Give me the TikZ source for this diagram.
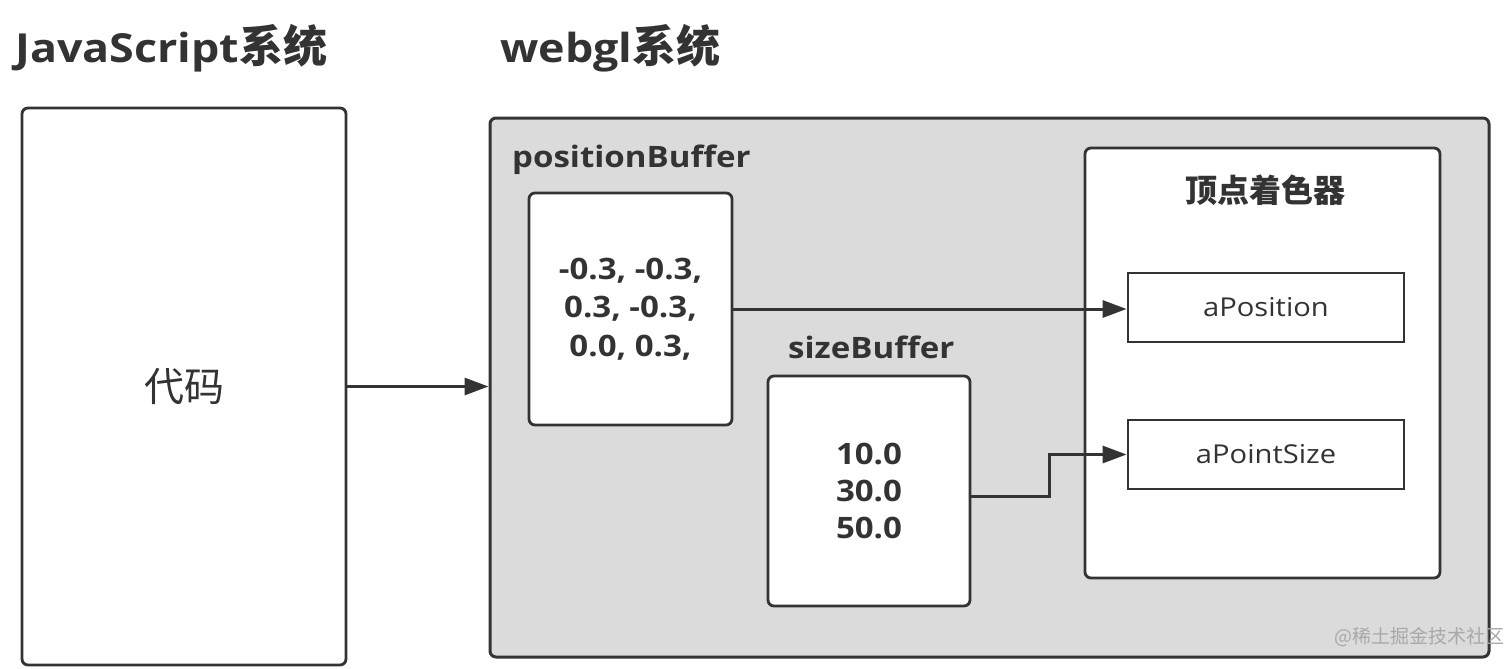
\documentclass[tikz,border=0pt]{standalone}
\usepackage{fontspec}
\setmainfont{Open Sans}[FakeStretch=1.12]
\newfontfamily\cjk{Noto Sans CJK SC}
\usetikzlibrary{arrows.meta}
\definecolor{ink}{HTML}{333333}
\definecolor{panel}{HTML}{DBDBDB}
\definecolor{wm}{HTML}{A8A8A8}
\tikzset{
  x=1pt, y=-1pt,
  rbox/.style={draw=ink, line width=2.8pt, fill=white, rounded corners=6pt, inner sep=0pt, text=ink},
  sbox/.style={draw=ink, line width=2.8pt, fill=white, inner sep=0pt, text=ink, font=\fontsize{26}{30}\selectfont},
  title/.style={text=ink, inner sep=0pt, font=\fontsize{40}{48}\selectfont\bfseries},
  lbl/.style={text=ink, inner sep=0pt, font=\fontsize{29.5}{34}\selectfont\bfseries},
  conn/.style={draw=ink, line width=3pt, -{Triangle[length=24pt,width=17pt]}},
}
\begin{document}
\begin{tikzpicture}
\useasboundingbox (0,0) rectangle (1512,669);
\fill[white] (0,0) rectangle (1512,669);
% titles
\node[title, anchor=west] (t1) at (15,48) {JavaScript{\fontsize{44}{48}\selectfont\cjk 系统}};
\node[title, anchor=west] (t2) at (500,48) {webgl{\fontsize{44}{48}\selectfont\cjk 系统}};
% left box
\node[rbox, minimum width=324pt, minimum height=557pt, font=\fontsize{40}{44}\selectfont\cjk] (code) at (184,386.5) {代码};
% gray panel
\node[rbox, fill=panel, line width=3pt, minimum width=999pt, minimum height=539pt] (gl) at (989.5,387.5) {};
% position buffer
\node[lbl, anchor=west] (plbl) at (512,160) {positionBuffer};
\node[rbox, minimum width=203pt, minimum height=232pt, align=center, font=\fontsize{29.5}{38.5}\selectfont\bfseries] (pos) at (630.5,309) {-0.3, -0.3,\\0.3, -0.3,\\0.0, 0.3,};
% size buffer
\node[lbl, anchor=west] (slbl) at (788,347) {sizeBuffer};
\node[rbox, minimum width=202pt, minimum height=230pt, align=center, font=\fontsize{29.5}{37}\selectfont\bfseries] (size) at (869,491) {10.0\\30.0\\50.0};
% vertex shader
\node[rbox, minimum width=355pt, minimum height=430pt] (vs) at (1262.5,363) {};
\node[text=ink, inner sep=0pt, font=\fontsize{32}{36}\selectfont\bfseries\cjk] (vslbl) at (1265,190) {顶点着色器};
\node[sbox, minimum width=276pt, minimum height=69pt] (apos) at (1266,307.5) {aPosition};
\node[sbox, minimum width=276pt, minimum height=69pt] (apsz) at (1266,454.5) {aPointSize};
% connectors
\draw[conn] (code.east) -- (code.east -| gl.west);
\draw[conn] (pos.east) -- (pos.east -| apos.west);
\draw[conn] ([yshift=-5pt]size.east) -- ++(78,0) |- (apsz.west);
% watermark
\node[text=wm, inner sep=0pt, anchor=east, font=\fontsize{19}{22}\selectfont\cjk] (wmk) at (1505,637) {@稀土掘金技术社区};
\end{tikzpicture}
\end{document}
